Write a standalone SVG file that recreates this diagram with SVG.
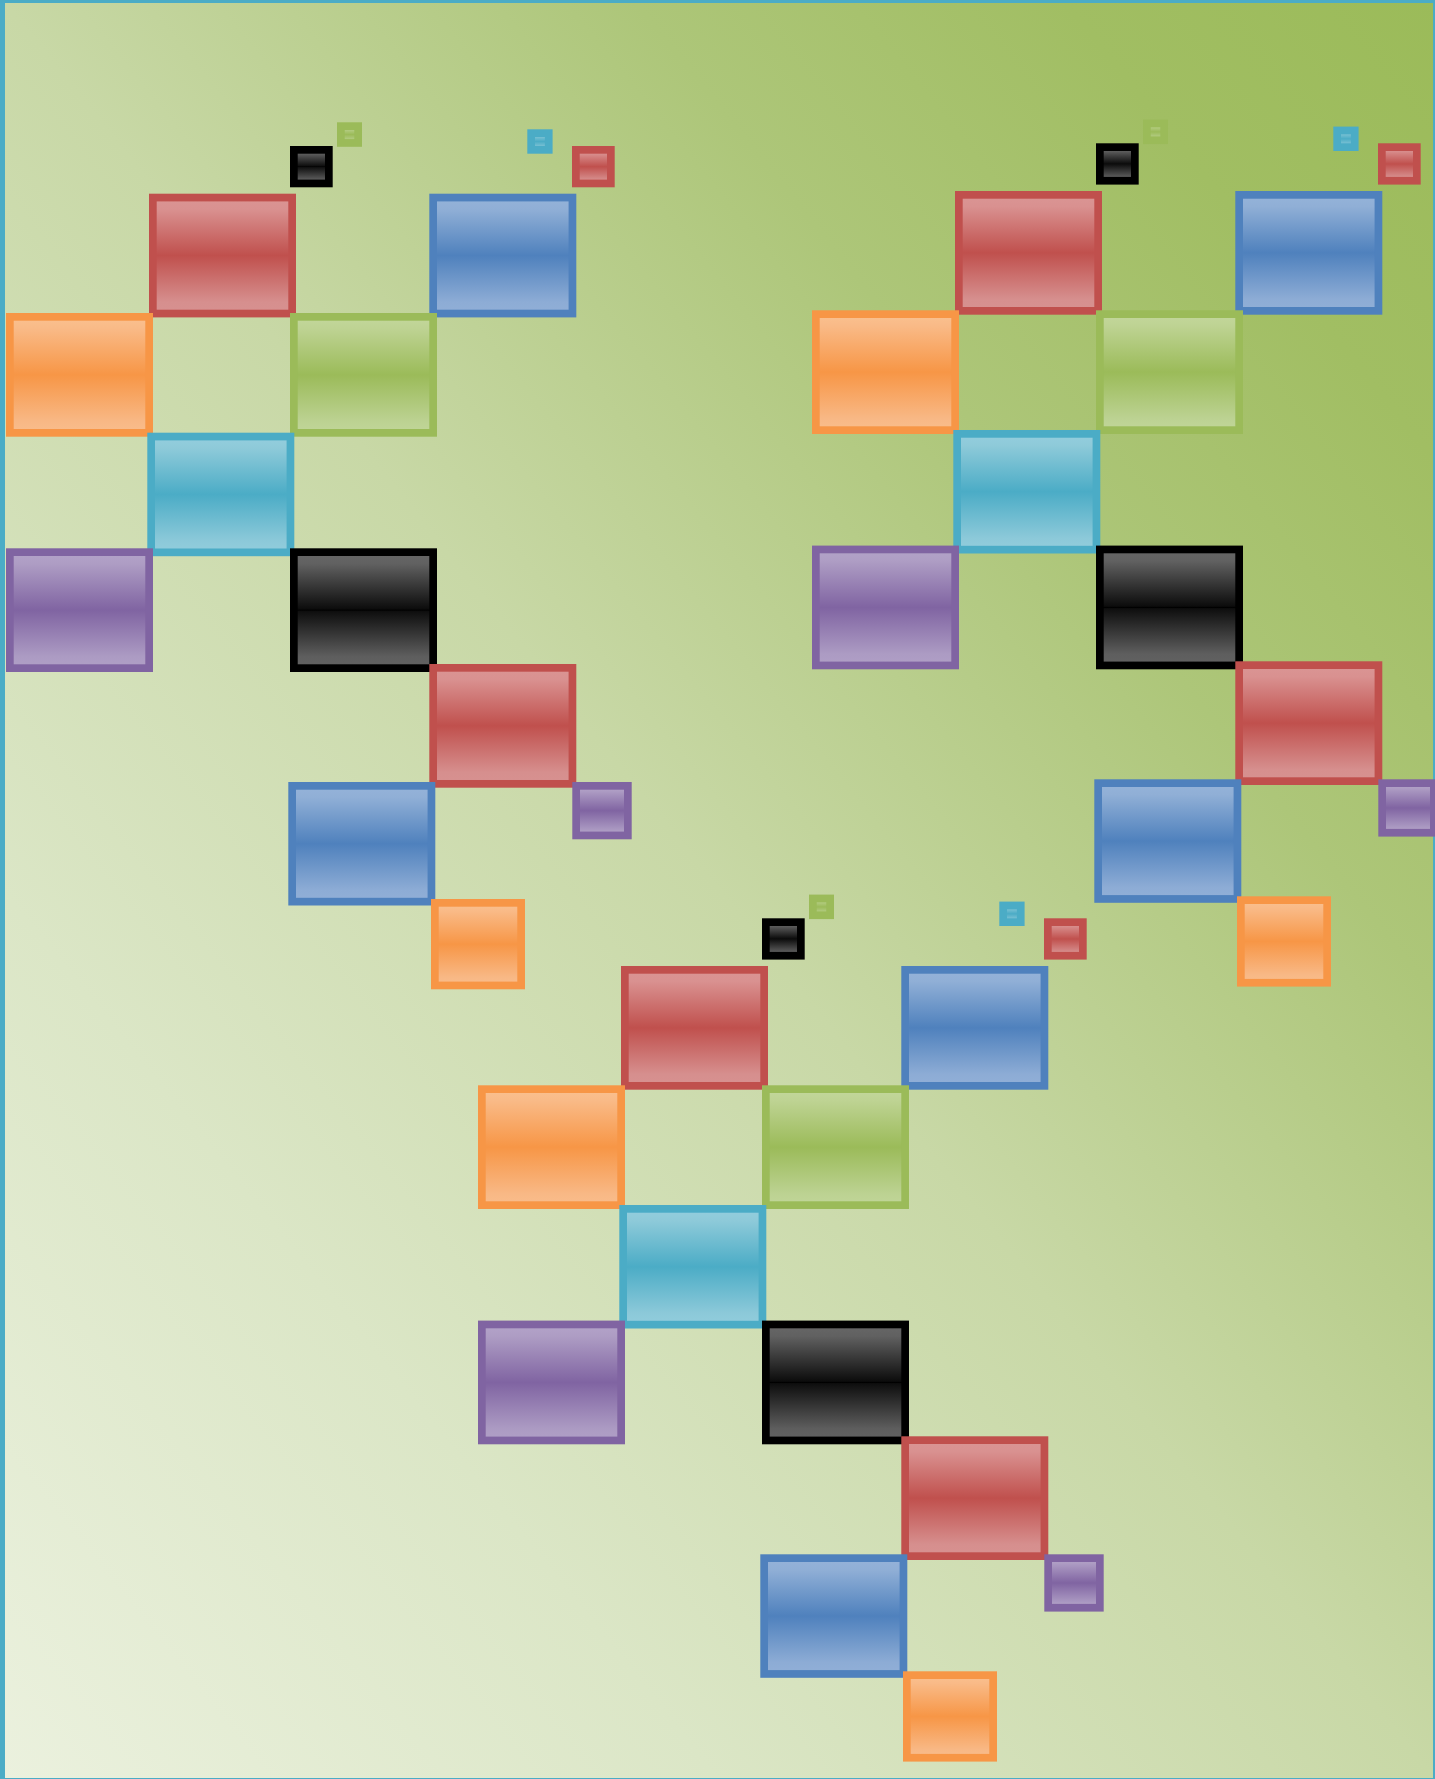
<svg xmlns="http://www.w3.org/2000/svg" width="1435" height="1779" viewBox="0 0 1435 1779">
  <defs>
    <linearGradient id="bg" x1="0" y1="1" x2="1" y2="0">
      <stop offset="0" stop-color="#EBF1DE"/>
      <stop offset="0.25" stop-color="#DBE6C6"/>
      <stop offset="0.5" stop-color="#C8D8A6"/>
      <stop offset="0.72" stop-color="#ADC679"/>
      <stop offset="0.87" stop-color="#A1BE63"/>
      <stop offset="1" stop-color="#9BBB59"/>
    </linearGradient>
    <linearGradient id="gR" x1="0" y1="0" x2="0" y2="1">
      <stop offset="0" stop-color="#DA9594"/>
      <stop offset="0.1" stop-color="#D99190"/>
      <stop offset="0.5" stop-color="#C0504D"/>
      <stop offset="0.9" stop-color="#D68F8E"/>
      <stop offset="1" stop-color="#D79190"/>
    </linearGradient>
    <linearGradient id="gB" x1="0" y1="0" x2="0" y2="1">
      <stop offset="0" stop-color="#95B3D9"/>
      <stop offset="0.1" stop-color="#90AFD6"/>
      <stop offset="0.5" stop-color="#4F81BD"/>
      <stop offset="0.9" stop-color="#8DACD5"/>
      <stop offset="1" stop-color="#91AFD7"/>
    </linearGradient>
    <linearGradient id="gO" x1="0" y1="0" x2="0" y2="1">
      <stop offset="0" stop-color="#FAC190"/>
      <stop offset="0.1" stop-color="#F9BA87"/>
      <stop offset="0.5" stop-color="#F79646"/>
      <stop offset="0.9" stop-color="#F8B885"/>
      <stop offset="1" stop-color="#F9BD8C"/>
    </linearGradient>
    <linearGradient id="gG" x1="0" y1="0" x2="0" y2="1">
      <stop offset="0" stop-color="#C3D79C"/>
      <stop offset="0.1" stop-color="#BED393"/>
      <stop offset="0.5" stop-color="#9BBB59"/>
      <stop offset="0.9" stop-color="#BCD292"/>
      <stop offset="1" stop-color="#C1D699"/>
    </linearGradient>
    <linearGradient id="gC" x1="0" y1="0" x2="0" y2="1">
      <stop offset="0" stop-color="#94CEDE"/>
      <stop offset="0.1" stop-color="#8ECAD9"/>
      <stop offset="0.5" stop-color="#4BACC6"/>
      <stop offset="0.9" stop-color="#8CC9D9"/>
      <stop offset="1" stop-color="#92CDDC"/>
    </linearGradient>
    <linearGradient id="gP" x1="0" y1="0" x2="0" y2="1">
      <stop offset="0" stop-color="#B3A3C9"/>
      <stop offset="0.1" stop-color="#AE9DC4"/>
      <stop offset="0.5" stop-color="#8064A2"/>
      <stop offset="0.9" stop-color="#AC9BC3"/>
      <stop offset="1" stop-color="#B09FC6"/>
    </linearGradient>
    <linearGradient id="gK" x1="0" y1="0" x2="0" y2="1">
      <stop offset="0" stop-color="#676767"/>
      <stop offset="0.1" stop-color="#616161"/>
      <stop offset="0.49" stop-color="#0C0C0C"/>
      <stop offset="0.5" stop-color="#000000"/>
      <stop offset="0.51" stop-color="#0E0E0E"/>
      <stop offset="0.9" stop-color="#5E5E5E"/>
      <stop offset="1" stop-color="#626262"/>
    </linearGradient>
  </defs>
  <style>
    .n { stroke-width: 7.7; }
    .r { fill: url(#gR); stroke: #C0504D; }
    .b { fill: url(#gB); stroke: #4F81BD; }
    .o { fill: url(#gO); stroke: #F79646; }
    .g { fill: url(#gG); stroke: #9BBB59; }
    .c { fill: url(#gC); stroke: #4BACC6; }
    .p { fill: url(#gP); stroke: #8064A2; }
    .k { fill: url(#gK); stroke: #000000; }
  </style>

  <rect id="background" x="2" y="0" width="1434" height="1781" fill="url(#bg)" stroke="#4BACC6" stroke-width="6"/>

  <g id="connectors"/>

  <g id="cluster-1">
    <g id="c1-black-small"><rect class="n k" x="293.85" y="149.85" width="35" height="33.6"/></g>
    <g id="c1-green-tiny"><rect class="n g" x="340.85" y="126.15" width="17.3" height="16.8"/></g>
    <g id="c1-cyan-tiny"><rect class="n c" x="531.15" y="133.15" width="17.6" height="16.7"/></g>
    <g id="c1-red-small"><rect class="n r" x="575.85" y="149.85" width="35" height="33.6"/></g>
    <g id="c1-red-1"><rect class="n r" x="152.85" y="197.55" width="139.3" height="116"/></g>
    <g id="c1-blue-1"><rect class="n b" x="433.15" y="197.55" width="139.3" height="116"/></g>
    <g id="c1-orange-1"><rect class="n o" x="9.85" y="316.85" width="139.3" height="116"/></g>
    <g id="c1-green-1"><rect class="n g" x="293.85" y="316.85" width="139.3" height="116"/></g>
    <g id="c1-cyan-1"><rect class="n c" x="151.15" y="436.55" width="139.3" height="115.8"/></g>
    <g id="c1-purple-1"><rect class="n p" x="9.85" y="552.15" width="139.3" height="116"/></g>
    <g id="c1-black-1"><rect class="n k" x="293.85" y="552.15" width="139.3" height="116"/></g>
    <g id="c1-red-2"><rect class="n r" x="433.15" y="667.85" width="139.3" height="116"/></g>
    <g id="c1-blue-2"><rect class="n b" x="292.15" y="785.85" width="139.3" height="115.8"/></g>
    <g id="c1-purple-small"><rect class="n p" x="576.15" y="785.85" width="51.7" height="49.6"/></g>
    <g id="c1-orange-small"><rect class="n o" x="434.85" y="902.85" width="86.3" height="82.6"/></g>
  </g>

  <g id="cluster-2" transform="translate(806,-2.7)">
    <g id="c2-black-small"><rect class="n k" x="293.85" y="149.85" width="35" height="33.6"/></g>
    <g id="c2-green-tiny"><rect class="n g" x="340.85" y="126.15" width="17.3" height="16.8"/></g>
    <g id="c2-cyan-tiny"><rect class="n c" x="531.15" y="133.15" width="17.6" height="16.7"/></g>
    <g id="c2-red-small"><rect class="n r" x="575.85" y="149.85" width="35" height="33.6"/></g>
    <g id="c2-red-1"><rect class="n r" x="152.85" y="197.55" width="139.3" height="116"/></g>
    <g id="c2-blue-1"><rect class="n b" x="433.15" y="197.55" width="139.3" height="116"/></g>
    <g id="c2-orange-1"><rect class="n o" x="9.85" y="316.85" width="139.3" height="116"/></g>
    <g id="c2-green-1"><rect class="n g" x="293.85" y="316.85" width="139.3" height="116"/></g>
    <g id="c2-cyan-1"><rect class="n c" x="151.15" y="436.55" width="139.3" height="115.8"/></g>
    <g id="c2-purple-1"><rect class="n p" x="9.85" y="552.15" width="139.3" height="116"/></g>
    <g id="c2-black-1"><rect class="n k" x="293.85" y="552.15" width="139.3" height="116"/></g>
    <g id="c2-red-2"><rect class="n r" x="433.15" y="667.85" width="139.3" height="116"/></g>
    <g id="c2-blue-2"><rect class="n b" x="292.15" y="785.85" width="139.3" height="115.8"/></g>
    <g id="c2-purple-small"><rect class="n p" x="576.15" y="785.85" width="51.7" height="49.6"/></g>
    <g id="c2-orange-small"><rect class="n o" x="434.85" y="902.85" width="86.3" height="82.6"/></g>
  </g>

  <g id="cluster-3" transform="translate(472,772.3)">
    <g id="c3-black-small"><rect class="n k" x="293.85" y="149.85" width="35" height="33.6"/></g>
    <g id="c3-green-tiny"><rect class="n g" x="340.85" y="126.15" width="17.3" height="16.8"/></g>
    <g id="c3-cyan-tiny"><rect class="n c" x="531.15" y="133.15" width="17.6" height="16.7"/></g>
    <g id="c3-red-small"><rect class="n r" x="575.85" y="149.85" width="35" height="33.6"/></g>
    <g id="c3-red-1"><rect class="n r" x="152.85" y="197.55" width="139.3" height="116"/></g>
    <g id="c3-blue-1"><rect class="n b" x="433.15" y="197.55" width="139.3" height="116"/></g>
    <g id="c3-orange-1"><rect class="n o" x="9.85" y="316.85" width="139.3" height="116"/></g>
    <g id="c3-green-1"><rect class="n g" x="293.85" y="316.85" width="139.3" height="116"/></g>
    <g id="c3-cyan-1"><rect class="n c" x="151.15" y="436.55" width="139.3" height="115.8"/></g>
    <g id="c3-purple-1"><rect class="n p" x="9.85" y="552.15" width="139.3" height="116"/></g>
    <g id="c3-black-1"><rect class="n k" x="293.85" y="552.15" width="139.3" height="116"/></g>
    <g id="c3-red-2"><rect class="n r" x="433.15" y="667.85" width="139.3" height="116"/></g>
    <g id="c3-blue-2"><rect class="n b" x="292.15" y="785.85" width="139.3" height="115.8"/></g>
    <g id="c3-purple-small"><rect class="n p" x="576.15" y="785.85" width="51.7" height="49.6"/></g>
    <g id="c3-orange-small"><rect class="n o" x="434.85" y="902.85" width="86.3" height="82.6"/></g>
  </g>
</svg>
